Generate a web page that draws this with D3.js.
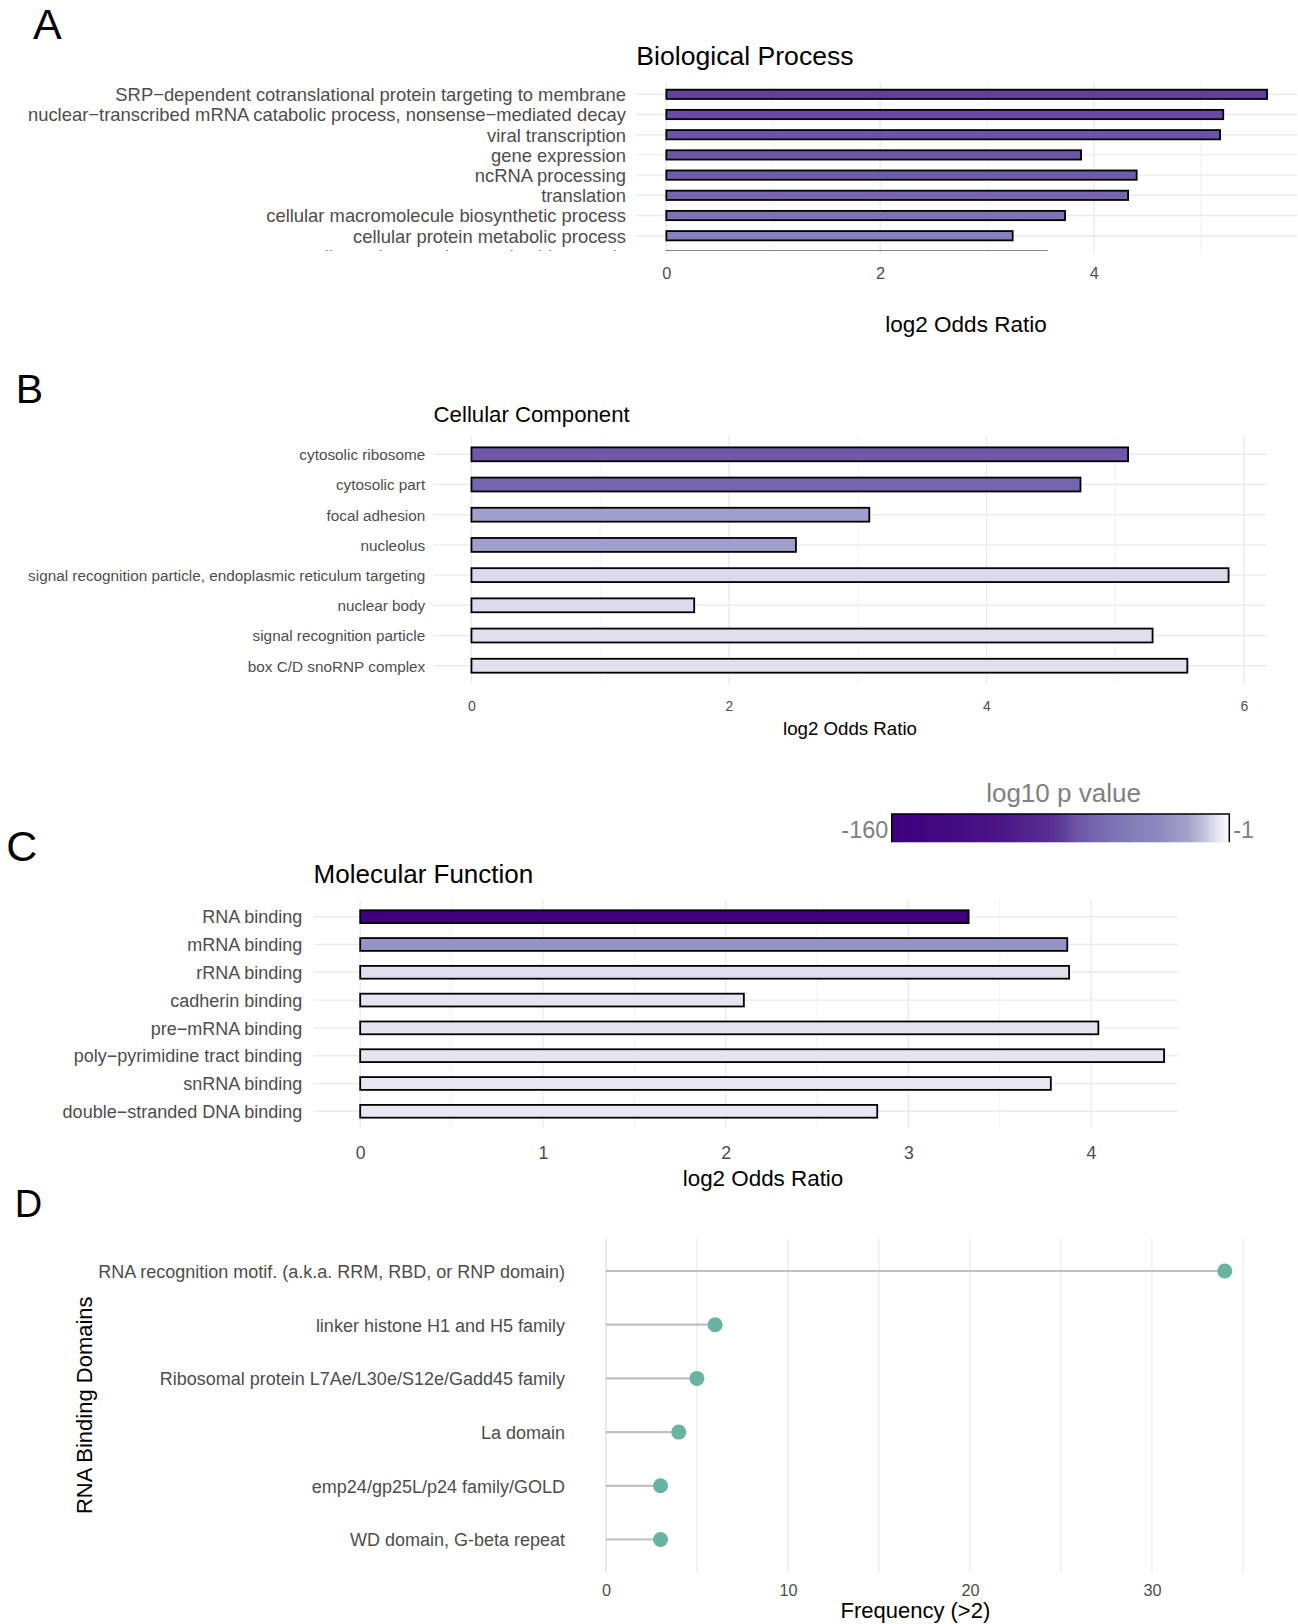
<!DOCTYPE html>
<html>
<head>
<meta charset="utf-8">
<script src="https://cdn.jsdelivr.net/npm/d3@7"></script>
<style>
  body { margin: 0; background: #fff; }
  text { font-family: "Liberation Sans", Arial, Helvetica, sans-serif; }
</style>
</head>
<body>
<svg id="fig"></svg>
<script>
// A - Biological Process (9th row is cut off in the figure)
var bpTerms = [
  "SRP\u2212dependent cotranslational protein targeting to membrane",
  "nuclear\u2212transcribed mRNA catabolic process, nonsense\u2212mediated decay",
  "viral transcription",
  "gene expression",
  "ncRNA processing",
  "translation",
  "cellular macromolecule biosynthetic process",
  "cellular protein metabolic process",
  "ribonucleoprotein complex biogenesis"
];
var bpOdds = [5.62, 5.21, 5.18, 3.88, 4.40, 4.32, 3.73, 3.24, 3.56];
var bpLogP = [-79, -76, -73, -72, -69, -64, -56, -42, -36];

// B - Cellular Component
var ccTerms = [
  "cytosolic ribosome",
  "cytosolic part",
  "focal adhesion",
  "nucleolus",
  "signal recognition particle, endoplasmic reticulum targeting",
  "nuclear body",
  "signal recognition particle",
  "box C/D snoRNP complex"
];
var ccOdds = [5.10, 4.73, 3.09, 2.52, 5.88, 1.73, 5.29, 5.56];
var ccLogP = [-70, -64, -23, -23, -8.5, -8.3, -7.6, -7.4];

// C - Molecular Function
var mfTerms = [
  "RNA binding",
  "mRNA binding",
  "rRNA binding",
  "cadherin binding",
  "pre\u2212mRNA binding",
  "poly\u2212pyrimidine tract binding",
  "snRNA binding",
  "double\u2212stranded DNA binding"
];
var mfOdds = [3.33, 3.87, 3.88, 2.10, 4.04, 4.40, 3.78, 2.83];
var mfLogP = [-160, -29, -7.6, -6.4, -6.4, -6.4, -5.8, -5.8];

// D - RNA binding domains
var domains = [
  "RNA recognition motif. (a.k.a. RRM, RBD, or RNP domain)",
  "linker histone H1 and H5 family",
  "Ribosomal protein L7Ae/L30e/S12e/Gadd45 family",
  "La domain",
  "emp24/gp25L/p24 family/GOLD",
  "WD domain, G-beta repeat"
];
var domainFreq = [34, 6, 5, 4, 3, 3];

var pRange = [-160, -1];

var width = 1298, height = 1624;
var svg = d3.select("#fig").attr("width", width).attr("height", height);
svg.append("rect").attr("width", width).attr("height", height).attr("fill", "#fff");
var defs = svg.append("defs");

// colour ramp of the legend: position along the bar -> depth in the Purples palette
var shade = d3.scaleLinear()
  .domain([0, 0.17, 0.32, 0.48, 0.54, 0.64, 0.78, 0.88, 0.93, 0.98, 1])
  .range([1, 0.97, 0.93, 0.85, 0.75, 0.66, 0.58, 0.47, 0.34, 0.12, 0])
  .clamp(true);
var pos = d3.scaleLinear().domain(pRange).range([0, 1]).clamp(true);
function fillScale(v) { return d3.interpolatePurples(shade(pos(v))); }

drawBarPanel(svg, {
  id: "bp", terms: bpTerms, odds: bpOdds, logp: bpLogP,
  xDomain: [-0.281, 5.90], left: 636.3, right: 1297, top: 82.2, step: 20.2,
  ticks: [0, 2, 4], minor: [1, 3, 5],
  labelEnd: 626, labelSize: 18.4, tickY: 273.3, tickSize: 16.3,
  title: "Biological Process", titleSize: 26.6, titleY: 65,
  axisTitleX: 966, axisTitleY: 324, axisTitleSize: 22.5,
  clipBottom: 250.8, gridBottom: 254
});

drawBarPanel(svg, {
  id: "cc", terms: ccTerms, odds: ccOdds, logp: ccLogP,
  xDomain: [-0.294, 6.174], left: 433.6, right: 1266.4, top: 436.2, step: 30.2,
  ticks: [0, 2, 4, 6], minor: [1, 3, 5],
  labelEnd: 425.2, labelSize: 15.3, tickY: 706, tickSize: 14,
  title: "Cellular Component", titleSize: 22.2, titleY: 421.7,
  axisTitleX: 850, axisTitleY: 728, axisTitleSize: 18.7
});

drawBarPanel(svg, {
  id: "mf", terms: mfTerms, odds: mfOdds, logp: mfLogP,
  xDomain: [-0.255, 4.475], left: 313.6, right: 1177.8, top: 900, step: 27.8,
  ticks: [0, 1, 2, 3, 4], minor: [0.5, 1.5, 2.5, 3.5],
  labelEnd: 302.3, labelSize: 18, tickY: 1152.7, tickSize: 17.7,
  title: "Molecular Function", titleSize: 26, titleY: 882.5,
  axisTitleX: 763, axisTitleY: 1178, axisTitleSize: 22.4
});

drawColorbar(svg, { left: 891.7, right: 1229.3, top: 814, bottom: 842.3 });

drawLollipop(svg, {
  xDomain: [-1.7, 35.7], left: 575, right: 1255.7, top: 1238.8, step: 53.7,
  ticks: [0, 10, 20, 30], minor: [5, 15, 25, 35],
  labelEnd: 565, labelSize: 18, tickY: 1590, tickSize: 16.3
});

// panel letters
var letters = [
  {t: "A", x: 33, y: 39.3, s: 43},
  {t: "B", x: 15.7, y: 402.7, s: 41},
  {t: "C", x: 6.3, y: 861, s: 43},
  {t: "D", x: 14.7, y: 1217, s: 38}
];
svg.selectAll(".letter").data(letters).enter().append("text")
  .attr("class", "letter")
  .attr("x", function(d) { return d.x; })
  .attr("y", function(d) { return d.y; })
  .attr("font-size", function(d) { return d.s; })
  .attr("fill", "#000")
  .text(function(d) { return d.t; });

function drawBarPanel(svg, o) {
  var g = svg.append("g");
  var n = o.terms.length;
  var x = d3.scaleLinear().domain(o.xDomain).range([o.left, o.right]);
  var y = d3.scalePoint().domain(o.terms)
    .range([o.top, o.top + o.step * (n - 1 + 1.2)]).padding(0.6);
  var gridBottom = o.gridBottom || (o.top + o.step * (n - 1 + 1.2));

  var body = g.append("g");
  if (o.clipBottom) {
    defs.append("clipPath").attr("id", "clip-" + o.id)
      .append("rect").attr("x", 0).attr("y", 0)
      .attr("width", width).attr("height", o.clipBottom);
    body.attr("clip-path", "url(#clip-" + o.id + ")");
  }

  // grid
  g.insert("g", ":first-child").selectAll("line").data(o.minor).enter().append("line")
    .attr("x1", function(d) { return x(d); }).attr("x2", function(d) { return x(d); })
    .attr("y1", o.top).attr("y2", gridBottom)
    .attr("stroke", "#f1f1f1").attr("stroke-width", 0.9);
  g.insert("g", ":first-child").selectAll("line").data(o.ticks).enter().append("line")
    .attr("x1", function(d) { return x(d); }).attr("x2", function(d) { return x(d); })
    .attr("y1", o.top).attr("y2", gridBottom)
    .attr("stroke", "#ebebeb").attr("stroke-width", 1.4);
  body.append("g").selectAll("line").data(o.terms).enter().append("line")
    .attr("x1", o.left).attr("x2", o.right)
    .attr("y1", function(d) { return y(d); }).attr("y2", function(d) { return y(d); })
    .attr("stroke", "#ebebeb").attr("stroke-width", 1.4);

  // bars
  var bh = o.step * 0.46;
  var rows = o.terms.map(function(t, i) { return {term: t, odds: o.odds[i], logp: o.logp[i]}; });
  body.append("g").selectAll("rect").data(rows).enter().append("rect")
    .attr("x", x(0))
    .attr("y", function(d) { return y(d.term) - bh / 2; })
    .attr("width", function(d) { return x(d.odds) - x(0); })
    .attr("height", bh)
    .attr("fill", function(d) { return fillScale(d.logp); })
    .attr("stroke", "#000")
    .attr("stroke-width", 1.8);

  // category labels
  var yAxis = body.append("g")
    .attr("transform", "translate(" + o.labelEnd + ",0)")
    .call(d3.axisLeft(y).tickSize(0).tickPadding(0));
  yAxis.select(".domain").remove();
  yAxis.selectAll("text")
    .attr("font-family", null)
    .attr("font-size", o.labelSize)
    .attr("fill", "#4d4d4d")
    .attr("dy", "0.35em");

  // tick labels
  var xAxis = g.append("g")
    .attr("transform", "translate(0," + o.tickY + ")")
    .call(d3.axisBottom(x).tickValues(o.ticks).tickSize(0).tickFormat(d3.format("d")));
  xAxis.select(".domain").remove();
  xAxis.selectAll("text")
    .attr("font-family", null)
    .attr("y", 0).attr("dy", "0.35em")
    .attr("font-size", o.tickSize)
    .attr("fill", "#4d4d4d");

  g.append("text")
    .attr("x", o.left).attr("y", o.titleY)
    .attr("font-size", o.titleSize).attr("fill", "#000")
    .text(o.title);

  g.append("text")
    .attr("x", o.axisTitleX).attr("y", o.axisTitleY)
    .attr("dy", "0.35em")
    .attr("text-anchor", "middle")
    .attr("font-size", o.axisTitleSize).attr("fill", "#000")
    .text("log2 Odds Ratio");
}

function drawColorbar(svg, o) {
  var grad = defs.append("linearGradient").attr("id", "pgrad")
    .attr("x1", "0%").attr("x2", "100%").attr("y1", "0%").attr("y2", "0%");
  var stops = d3.range(0, 1.0001, 0.02);
  grad.selectAll("stop").data(stops).enter().append("stop")
    .attr("offset", function(d) { return (d * 100) + "%"; })
    .attr("stop-color", function(d) { return fillScale(pos.invert(d)); });

  svg.append("rect")
    .attr("x", o.left).attr("y", o.top)
    .attr("width", o.right - o.left).attr("height", o.bottom - o.top)
    .attr("fill", "url(#pgrad)");
  svg.append("path")
    .attr("d", "M" + o.left + "," + o.bottom + "V" + o.top + "H" + o.right + "V" + o.bottom)
    .attr("fill", "none").attr("stroke", "#000").attr("stroke-width", 1.5);

  svg.append("text")
    .attr("x", (o.left + o.right) / 2 + 3).attr("y", o.top - 21)
    .attr("dy", "0.35em").attr("text-anchor", "middle")
    .attr("font-size", 26).attr("fill", "#808080")
    .text("log10 p value");
  svg.append("text")
    .attr("x", o.left - 3.5).attr("y", (o.top + o.bottom) / 2 + 2)
    .attr("dy", "0.35em").attr("text-anchor", "end")
    .attr("font-size", 23.4).attr("fill", "#808080")
    .text(pRange[0]);
  svg.append("text")
    .attr("x", o.right + 4).attr("y", (o.top + o.bottom) / 2 + 2)
    .attr("dy", "0.35em").attr("text-anchor", "start")
    .attr("font-size", 23.4).attr("fill", "#808080")
    .text(pRange[1]);
}

function drawLollipop(svg, o) {
  var g = svg.append("g");
  var n = domains.length;
  var bottom = o.top + o.step * (n - 1 + 1.2);
  var x = d3.scaleLinear().domain(o.xDomain).range([o.left, o.right]);
  var y = d3.scalePoint().domain(domains).range([o.top, bottom]).padding(0.6);

  g.append("g").selectAll("line").data(o.ticks.concat(o.minor)).enter().append("line")
    .attr("x1", function(d) { return x(d); }).attr("x2", function(d) { return x(d); })
    .attr("y1", o.top).attr("y2", bottom)
    .attr("stroke", function(d) { return d === 0 ? "#dddddd" : "#ebebeb"; })
    .attr("stroke-width", 1.3);

  var rows = domains.map(function(d, i) { return {name: d, freq: domainFreq[i]}; });
  g.append("g").selectAll("line").data(rows).enter().append("line")
    .attr("x1", x(0))
    .attr("x2", function(d) { return x(d.freq); })
    .attr("y1", function(d) { return y(d.name); })
    .attr("y2", function(d) { return y(d.name); })
    .attr("stroke", "#c0c0c0").attr("stroke-width", 2.2);
  g.append("g").selectAll("circle").data(rows).enter().append("circle")
    .attr("cx", function(d) { return x(d.freq); })
    .attr("cy", function(d) { return y(d.name); })
    .attr("r", 7.5)
    .attr("fill", "#69b3a2");

  var yAxis = g.append("g")
    .attr("transform", "translate(" + o.labelEnd + ",0)")
    .call(d3.axisLeft(y).tickSize(0).tickPadding(0));
  yAxis.select(".domain").remove();
  yAxis.selectAll("text")
    .attr("font-family", null)
    .attr("font-size", o.labelSize)
    .attr("fill", "#4d4d4d")
    .attr("dy", "0.35em");

  var xAxis = g.append("g")
    .attr("transform", "translate(0," + o.tickY + ")")
    .call(d3.axisBottom(x).tickValues(o.ticks).tickSize(0).tickFormat(d3.format("d")));
  xAxis.select(".domain").remove();
  xAxis.selectAll("text")
    .attr("font-family", null)
    .attr("y", 0).attr("dy", "0.35em")
    .attr("font-size", o.tickSize)
    .attr("fill", "#4d4d4d");

  g.append("text")
    .attr("x", (o.left + o.right) / 2).attr("y", 1610)
    .attr("dy", "0.35em").attr("text-anchor", "middle")
    .attr("font-size", 22).attr("fill", "#000")
    .text("Frequency (>2)");

  g.append("text")
    .attr("transform", "translate(84.2," + ((o.top + bottom) / 2) + ") rotate(-90)")
    .attr("dy", "0.35em").attr("text-anchor", "middle")
    .attr("font-size", 22).attr("fill", "#000")
    .text("RNA Binding Domains");
}
</script>
</body>
</html>
